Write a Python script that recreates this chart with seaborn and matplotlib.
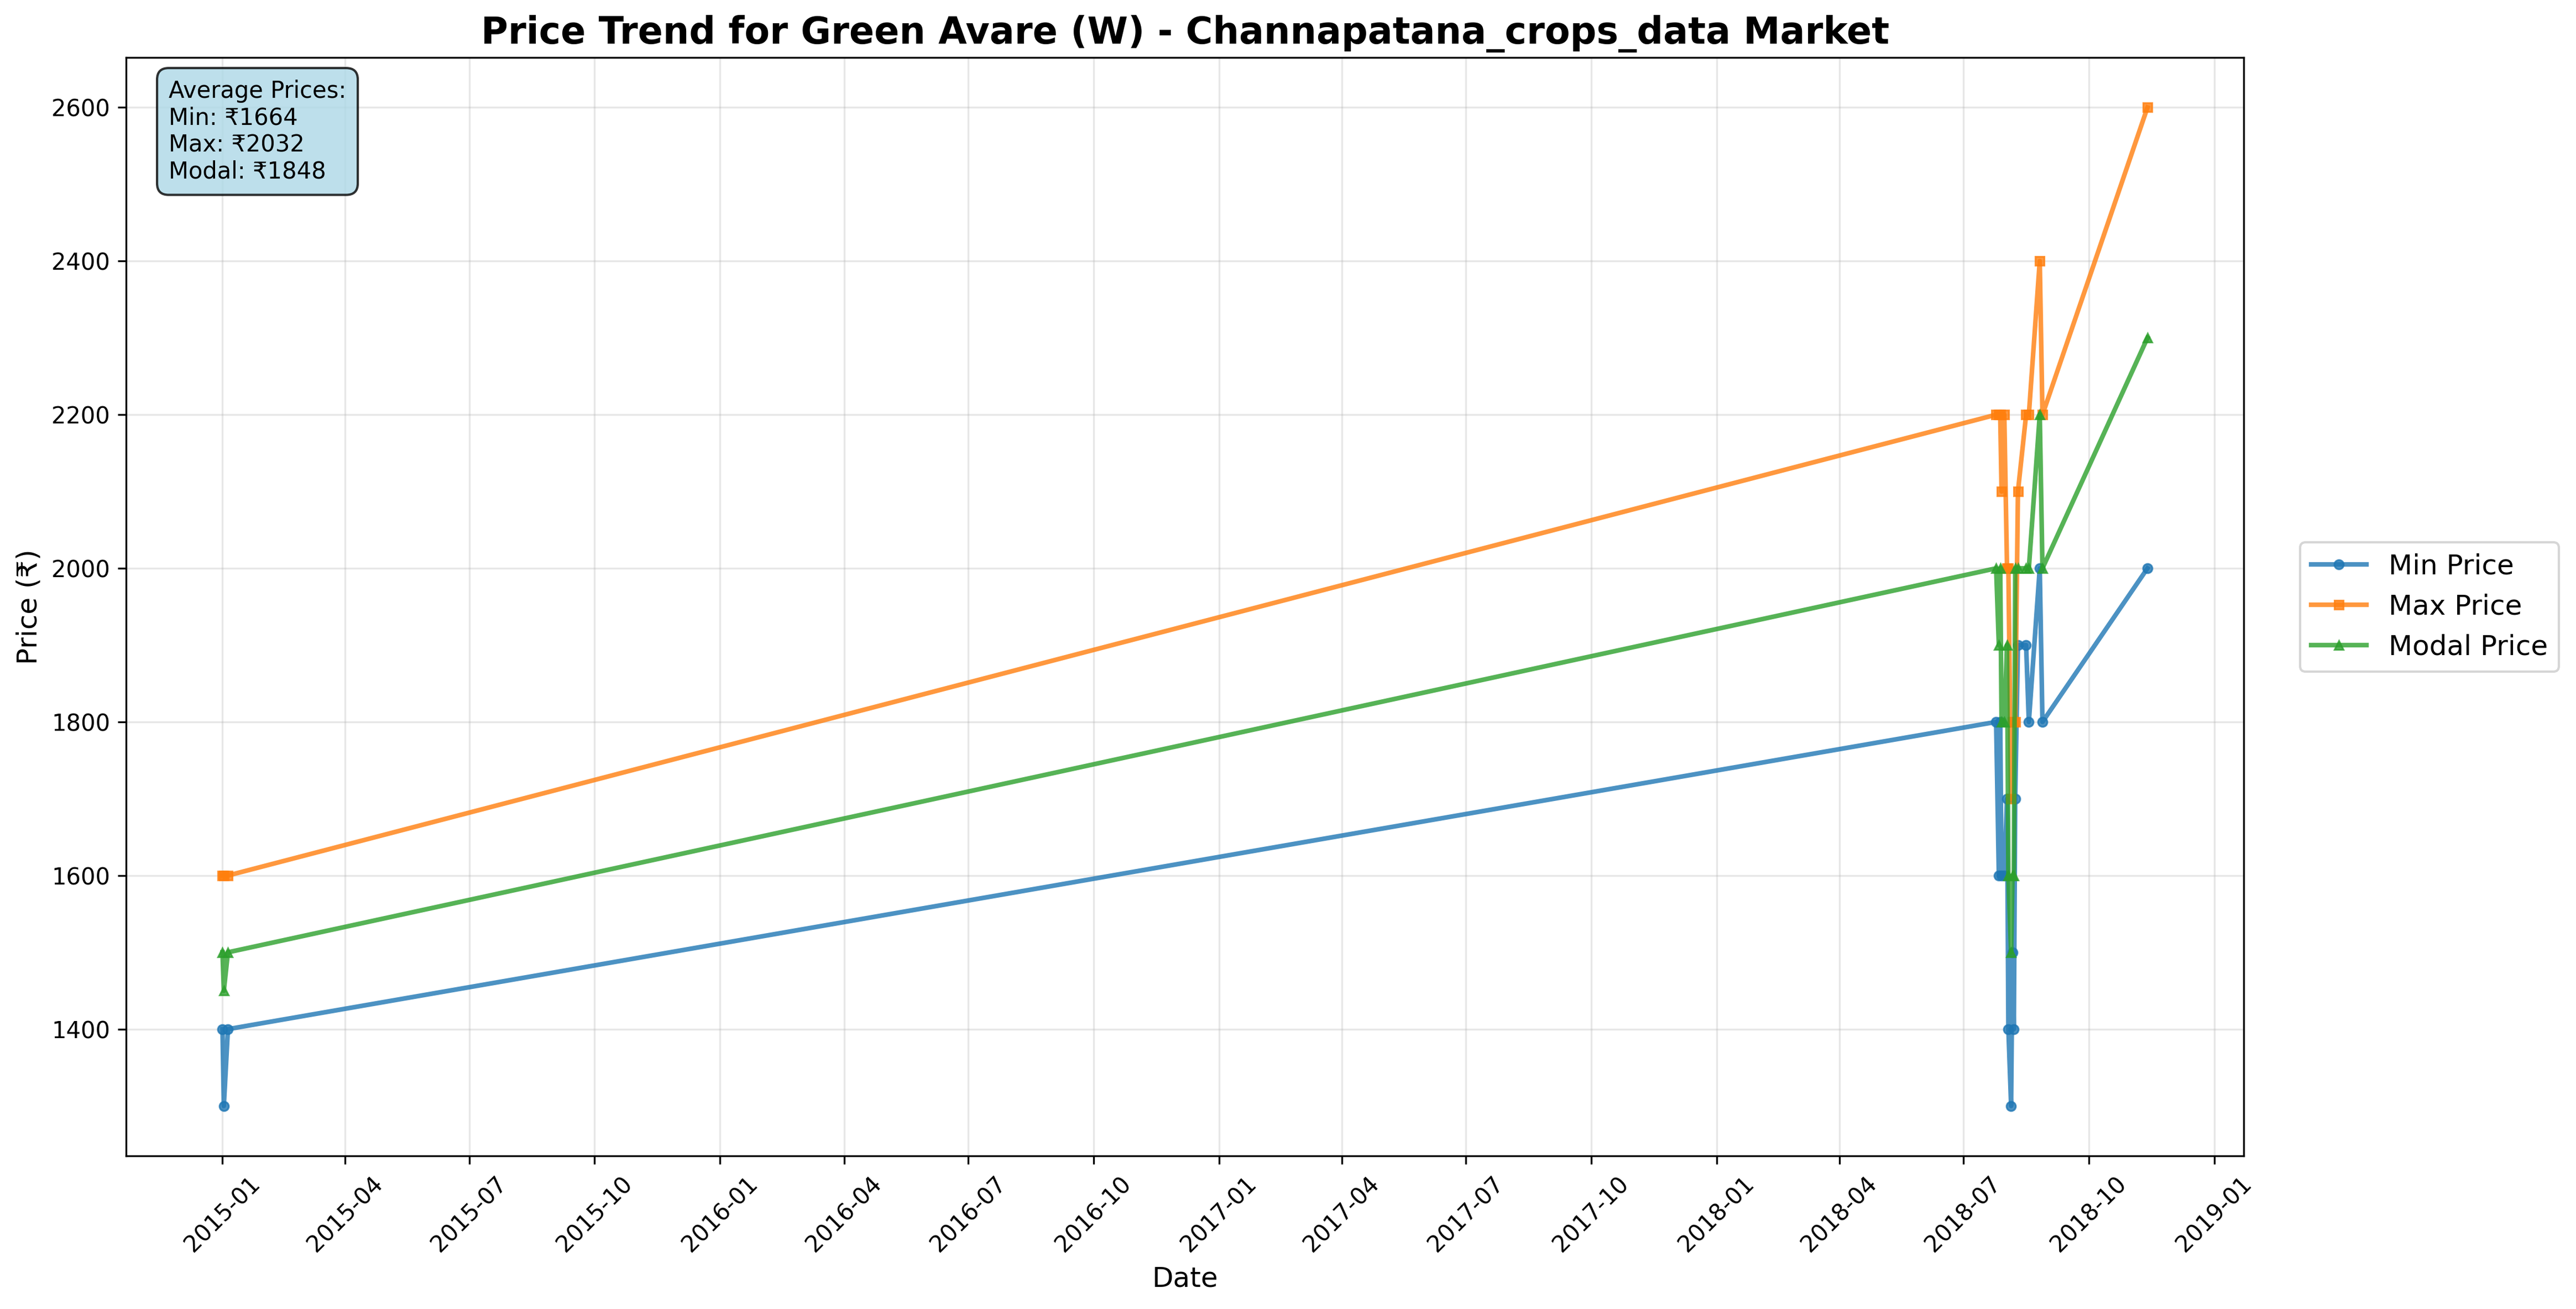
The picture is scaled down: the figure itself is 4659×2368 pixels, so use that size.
import matplotlib

matplotlib.use("Agg")

import matplotlib.dates as mdates
import matplotlib.pyplot as plt
import pandas as pd
import seaborn as sns

dates = [
    "2015-01-01", "2015-01-02", "2015-01-05",
    "2018-07-25", "2018-07-27", "2018-07-28", "2018-07-29", "2018-07-31",
    "2018-08-02", "2018-08-03", "2018-08-05", "2018-08-06", "2018-08-07",
    "2018-08-08", "2018-08-10", "2018-08-16", "2018-08-18", "2018-08-26",
    "2018-08-28", "2018-11-13",
]
min_price = [
    1400, 1300, 1400,
    1800, 1600, 1800, 1600, 1600,
    1700, 1400, 1300, 1500, 1400,
    1700, 1900, 1900, 1800, 2000,
    1800, 2000,
]
max_price = [
    1600, 1600, 1600,
    2200, 2200, 2200, 2100, 2200,
    2000, 2000, 1700, 1800, 1800,
    1800, 2100, 2200, 2200, 2400,
    2200, 2600,
]
modal_price = [
    1500, 1450, 1500,
    2000, 1900, 2000, 1800, 1800,
    1900, 1600, 1500, 1600, 1600,
    2000, 2000, 2000, 2000, 2200,
    2000, 2300,
]
avg_text = "Average Prices:\nMin: ₹1664\nMax: ₹2032\nModal: ₹1848"

df = pd.DataFrame({
    "date": pd.to_datetime(dates),
    "min": min_price,
    "max": max_price,
    "modal": modal_price,
})

fig = plt.figure(figsize=(4659 / 300, 2368 / 300), dpi=300)
ax = fig.add_axes([0.049, 0.117, 0.822, 0.839])

series = [
    ("min", "Min Price", "o", "#1f77b4"),
    ("max", "Max Price", "s", "#ff7f0e"),
    ("modal", "Modal Price", "^", "#2ca02c"),
]
for col, label, marker, color in series:
    sns.lineplot(
        data=df, x="date", y=col, ax=ax, label=label, color=color,
        marker=marker, markersize=4, linewidth=2, alpha=0.8,
        markeredgecolor=color, estimator=None, sort=True,
    )

ax.set_title(
    "Price Trend for Green Avare (W) - Channapatana_crops_data Market",
    fontsize=16, fontweight="bold",
)
ax.set_xlabel("Date", fontsize=12)
ax.set_ylabel("Price (₹)", fontsize=12)
ax.grid(True, alpha=0.3)
ax.xaxis.set_major_locator(mdates.MonthLocator(bymonth=[1, 4, 7, 10]))
ax.xaxis.set_major_formatter(mdates.DateFormatter("%Y-%m"))
plt.setp(ax.get_xticklabels(), rotation=45)

ax.legend(bbox_to_anchor=(1.02, 0.5), loc="center left", fontsize=12)

ax.text(
    0.02, 0.98, avg_text, transform=ax.transAxes, fontsize=10,
    verticalalignment="top",
    bbox=dict(boxstyle="round,pad=0.5", facecolor="lightblue", alpha=0.8),
)

fig.savefig("out.png", dpi=300)
